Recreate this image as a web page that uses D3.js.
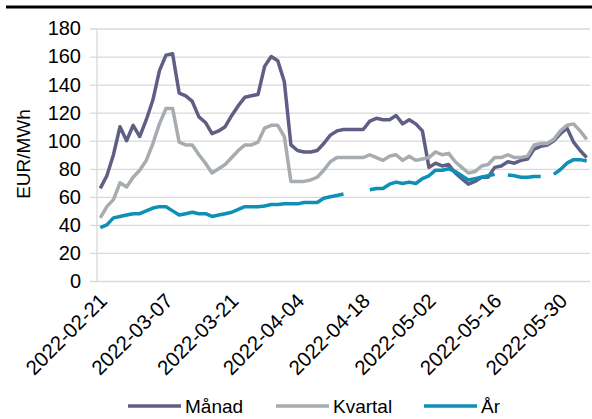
<!DOCTYPE html>
<html>
<head>
<meta charset="utf-8">
<script src="https://cdn.jsdelivr.net/npm/d3@7"></script>
<style>
  body { margin: 0; background: #fff; }
  svg { display: block; font-family: "Liberation Sans", Arial, sans-serif; }
</style>
</head>
<body>
<svg></svg>
<script>
var width = 592;
var height = 419;

// trading days (weekdays) from 2022-02-21 to 2022-06-03
var start = new Date(Date.UTC(2022, 1, 21));
var end = new Date(Date.UTC(2022, 5, 4));
var days = d3.utcDays(start, end).filter(d => d.getUTCDay() > 0 && d.getUTCDay() < 6);

var tickLabels = ["2022-02-21", "2022-03-07", "2022-03-21", "2022-04-04",
    "2022-04-18", "2022-05-02", "2022-05-16", "2022-05-30"];
var yTicks = [0, 20, 40, 60, 80, 100, 120, 140, 160, 180];

var manad = [66, 75, 90, 110, 100, 111, 103, 115, 129, 150,
    161, 162, 134, 132, 128, 117, 113, 105, 107, 110,
    118, 125, 131, 132, 133, 153, 160, 157, 142, 97,
    93, 92, 92, 93, 98, 104, 107, 108, 108, 108,
    108, 114, 116, 115, 115, 118, 112, 115, 112, 107,
    81, 84, 82, 83, 77, 73, 69, 71, 74, 74,
    81, 82, 85, 84, 86, 87, 94, 96, 97, 100,
    105, 109, 99, 93, 88];
var kvartal = [45, 53, 58, 70, 67, 74, 79, 86, 98, 112,
    123, 123, 99, 97, 97, 90, 84, 77, 80, 83,
    88, 93, 97, 97, 99, 109, 111, 111, 103, 71,
    71, 71, 72, 74, 79, 85, 88, 88, 88, 88,
    88, 90, 88, 86, 89, 90, 86, 89, 86, 87,
    88, 92, 90, 91, 85, 81, 77, 78, 82, 83,
    88, 88, 90, 88, 88, 89, 97, 98, 98, 101,
    107, 111, 112, 107, 101];
var ar = [38, 40, 45, 46, 47, 48, 48, 50, 52, 53,
    53, 50, 47, 48, 49, 48, 48, 46, 47, 48,
    49, 51, 53, 53, 53, 53.5, 54.5, 54.5, 55, 55,
    55, 56, 56, 56, 59, 60, 61, 62, null, null,
    null, 65, 66, 66, 69, 70.5, 69.5, 70.5, 69.5, 73,
    75, 79, 79, 80, 78, 75, 72, 73, 74, 75,
    76, null, 75.5, 75, 74, 74, 74.5, 74.5, null, 76,
    79.5, 84, 86.5, 86.5, 85.5];

var series = [
    { name: "Månad", values: manad, color: "#5f5e85" },
    { name: "Kvartal", values: kvartal, color: "#a6acb0" },
    { name: "År", values: ar, color: "#0e8fb6" }
];

const svg = d3.select('svg')
    .attr('width', width)
    .attr('height', height);

var x = d3.scaleBand()
    .domain(d3.range(days.length))
    .range([97, 590]);
var y = d3.scaleLinear()
    .domain([0, 180])
    .range([281, 28.5]);
var cx = i => x(i) + x.bandwidth() / 2;

// top rule under the (cropped) heading
svg.append("rect")
    .attr("x", 6).attr("y", 5.5)
    .attr("width", width - 6).attr("height", 3)
    .attr("fill", "#000");

// gridlines + y labels
svg.append("g")
    .attr("transform", "translate(97,0)")
    .call(d3.axisLeft(y).tickValues(yTicks).tickSize(-493).tickPadding(16))
    .call(g => g.select(".domain").remove())
    .call(g => g.selectAll(".tick line")
        .attr("x1", -7)
        .attr("stroke", "#d9d9d9")
        .attr("stroke-width", 1.3))
    .call(g => g.selectAll(".tick text")
        .attr("font-size", 20)
        .attr("fill", "#000"));

// y axis line
svg.append("line")
    .attr("x1", 97).attr("x2", 97)
    .attr("y1", y(180)).attr("y2", y(0))
    .attr("stroke", "#d9d9d9")
    .attr("stroke-width", 1.3);

// x labels
var fmt = d3.utcFormat("%Y-%m-%d");
var labelIdx = tickLabels.map(t => days.findIndex(d => fmt(d) === t));
svg.append("g")
    .selectAll("text")
    .data(tickLabels)
    .join("text")
    .attr("transform", (d, i) => `translate(${cx(labelIdx[i]) + 3},${y(0) + 16}) rotate(-45)`)
    .attr("text-anchor", "end")
    .attr("dy", "0.35em")
    .attr("font-size", 20.5)
    .attr("fill", "#000")
    .text(d => d);

// y title
svg.append("text")
    .attr("transform", "translate(23,154) rotate(-90)")
    .attr("text-anchor", "middle")
    .attr("dy", "0.35em")
    .attr("font-size", 19)
    .attr("fill", "#000")
    .text("EUR/MWh");

var line = d3.line()
    .defined(d => d != null)
    .x((d, i) => cx(i))
    .y(d => y(d));

svg.append("g")
    .selectAll("path")
    .data(series)
    .join("path")
    .attr("fill", "none")
    .attr("stroke", d => d.color)
    .attr("stroke-width", 3.5)
    .attr("stroke-linejoin", "round")
    .attr("d", d => line(d.values));

// legend
var legendX = [128, 276, 424];
var legend = svg.append("g")
    .selectAll("g")
    .data(series)
    .join("g")
    .attr("transform", (d, i) => `translate(${legendX[i]},406)`);
legend.append("line")
    .attr("x1", 0).attr("x2", 53)
    .attr("stroke", d => d.color)
    .attr("stroke-width", 3.5);
legend.append("text")
    .attr("x", 57)
    .attr("dy", "0.35em")
    .attr("font-size", 19)
    .attr("fill", "#000")
    .text(d => d.name);
</script>
</body>
</html>
